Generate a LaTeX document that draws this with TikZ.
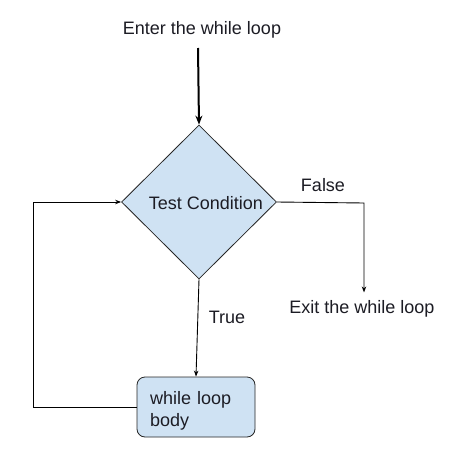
\documentclass[tikz,border=0pt]{standalone}
\usepackage{fontspec}
\setmainfont{Liberation Sans}
\usetikzlibrary{shapes.geometric,arrows.meta}
\definecolor{boxblue}{HTML}{CFE2F3}
\definecolor{txt}{HTML}{1C1C24}
\begin{document}
\begin{tikzpicture}[x=1pt,y=-1pt,
  every node/.style={font=\fontsize{18pt}{22pt}\selectfont, text=txt},
  conn/.style={draw=black, line width=0.9pt, -{Stealth[length=6pt,width=4.5pt]}},
  lbl/.style={inner sep=0pt}]
\useasboundingbox (0,0) rectangle (456,466);
\fill[white] (0,0) rectangle (456,466);
\node[lbl] (enter) at (202,30) {Enter the while loop};
\coordinate (estart) at (198,48);
\node[diamond, draw=black!85, line width=0.8pt, fill=boxblue, minimum width=155pt, minimum height=154pt, inner sep=0pt] (cond) at (199,202) {};
\node[lbl] (condtxt) at (206,203) {Test Condition};
\node[draw=black!85, line width=0.8pt, fill=boxblue, rounded corners=8pt, minimum width=118pt, minimum height=60pt, inner sep=0pt] (body) at (196,407) {};
\node[text width=92pt, align=left, inner sep=0pt, anchor=west] (bodytxt) at (150,411) {while loop\\body};
\node[inner xsep=3pt, inner ysep=8pt] (exit) at (362,309) {Exit the while loop};
\node[lbl] (false) at (323,185) {False};
\node[lbl] (true) at (227,317) {True};
\coordinate (fcorner) at (364,203);
\coordinate (lcorner) at (33,407);
\draw[conn, line width=2pt, -{Stealth[length=9pt,width=7pt]}] (estart) -- (cond.north);
\draw[conn] (cond.east) -- (fcorner) -- (fcorner |- exit.north);
\draw[conn] (cond.south) -- (body.north);
\draw[conn] (body.west) -- (lcorner) |- (cond.west);
\end{tikzpicture}
\end{document}
